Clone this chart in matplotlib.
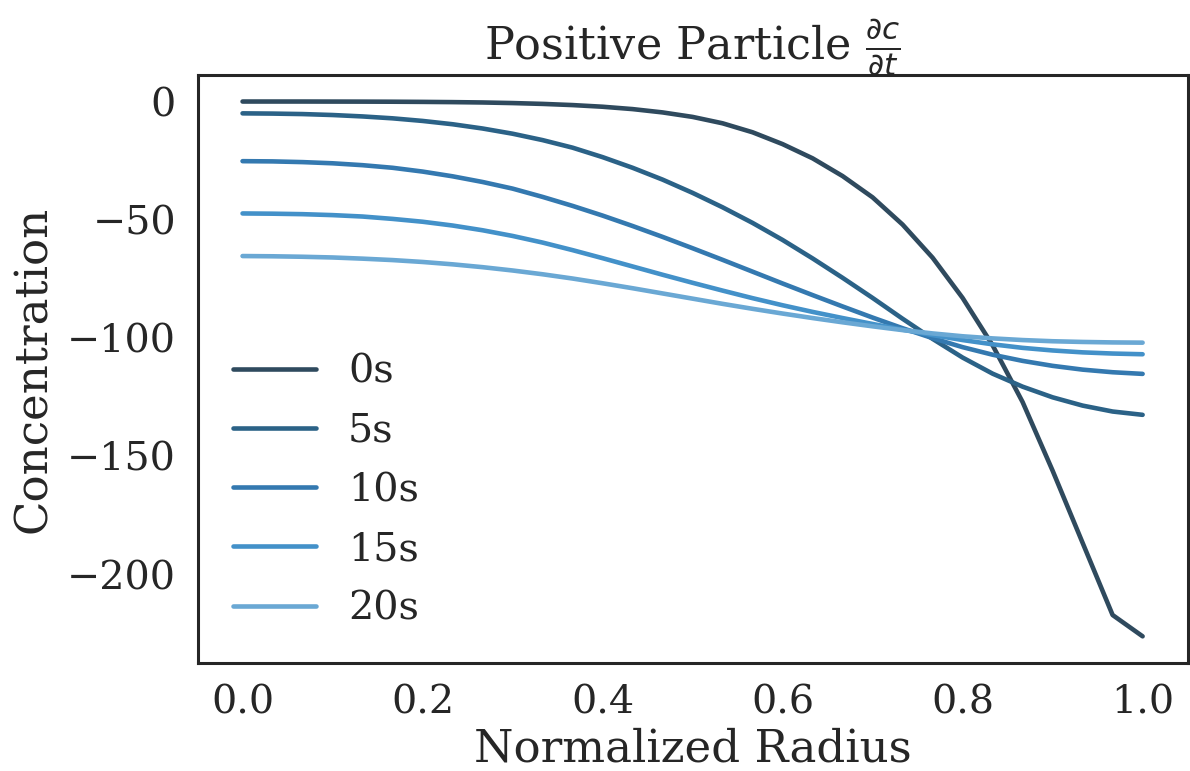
import numpy as np
import matplotlib
matplotlib.use("Agg")
import matplotlib.pyplot as plt
import seaborn as sns

sns.set_style("white")
plt.rcParams['font.family'] = ['DejaVu Serif']
plt.rcParams['mathtext.fontset'] = 'dejavusans'

# normalized radius (31 grid points)
radius = np.linspace(0, 1, 31)

labels = ["0s", "5s", "10s", "15s", "20s"]
colors = ["#2f4a5e", "#2b6287", "#3479b0", "#4391c9", "#6aa8d4"]

# concentration values
c_0s = [0.0, 0.0, 0.0, -0.02, -0.04, -0.08, -0.15, -0.25, -0.4, -0.65,
        -1.0, -1.5, -2.2, -3.2, -4.6, -6.5, -9.2, -13.0, -18.0, -24.0,
        -31.5, -40.5, -52.0, -66.0, -83.0, -103.0, -127.0, -156.0, -186.5, -217.0,
        -226.0]
c_5s = [-5.0, -5.1, -5.3, -5.7, -6.3, -7.1, -8.2, -9.6, -11.4, -13.6,
        -16.3, -19.5, -23.5, -28.0, -33.0, -38.6, -44.7, -51.3, -58.5, -66.3,
        -74.5, -83.0, -91.8, -100.3, -108.2, -115.0, -120.5, -125.0, -128.5, -131.0,
        -132.4]
c_10s = [-25.2, -25.3, -25.6, -26.1, -26.9, -28.0, -29.6, -31.6, -34.0, -36.8,
         -40.3, -44.1, -48.2, -52.6, -57.2, -62.0, -66.9, -71.9, -76.9, -81.8,
         -86.6, -91.3, -95.8, -100.0, -103.8, -107.0, -109.6, -111.7, -113.3, -114.4,
         -115.1]
c_15s = [-47.3, -47.4, -47.6, -48.0, -48.6, -49.6, -50.8, -52.4, -54.4, -56.8,
         -59.6, -62.8, -66.2, -69.7, -73.2, -76.6, -79.9, -83.1, -86.1, -88.9,
         -91.5, -94.0, -96.4, -98.7, -100.8, -102.6, -104.1, -105.2, -106.0, -106.5,
         -106.8]
c_20s = [-65.3, -65.4, -65.6, -65.9, -66.4, -67.0, -67.8, -68.8, -70.0, -71.4,
         -73.0, -74.8, -76.8, -78.9, -81.1, -83.3, -85.5, -87.6, -89.6, -91.5,
         -93.3, -95.0, -96.6, -98.0, -99.2, -100.1, -100.8, -101.3, -101.6, -101.8,
         -101.9]
series = [c_0s, c_5s, c_10s, c_15s, c_20s]

fig, ax = plt.subplots(figsize=(11.9, 7.71), dpi=100)
for vals, lab, col in zip(series, labels, colors):
    ax.plot(radius, vals, color=col, lw=3.3, label=lab, solid_capstyle='round')

ax.set_title(r"Positive Particle $\frac{\partial c}{\partial t}$", fontsize=32, pad=11)
ax.set_xlabel("Normalized Radius", fontsize=32.5)
ax.set_ylabel("Concentration", fontsize=32.5, labelpad=9)
ax.tick_params(labelsize=28.5, pad=12)
ax.set_yticks([0, -50, -100, -150, -200])
for s in ax.spines.values():
    s.set_linewidth(2.2)
    s.set_color("#262626")
ax.legend(frameon=False, fontsize=28.5, loc="lower left", handlelength=2.1,
          borderaxespad=0.5, labelspacing=0.56)

fig.subplots_adjust(left=0.166, right=0.998, top=0.903, bottom=0.14)
fig.savefig("out.png", dpi=100)
